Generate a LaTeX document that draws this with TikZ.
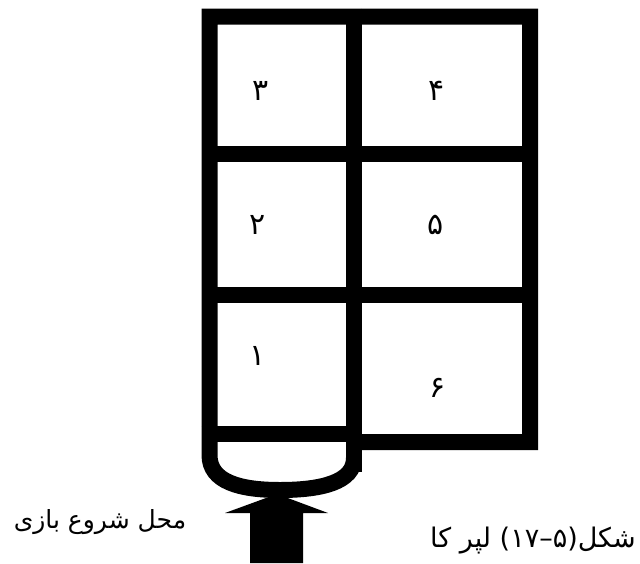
\documentclass[tikz,border=0pt]{standalone}
\usepackage{fontspec}
\newfontfamily\arabicfont[Script=Arabic]{DejaVu Sans}
\newfontfamily\latinfont{DejaVu Sans}
\TeXXeTstate=1
\begin{document}
\begin{tikzpicture}[x=1pt,y=-1pt,
  bar/.style={line width=16pt, line cap=butt, line join=miter},
  cellnum/.style={font=\arabicfont\fontsize{30}{34}\selectfont, inner sep=0pt},
  startlabel/.style={font=\arabicfont\fontsize{25}{29}\selectfont, inner sep=0pt},
  caption/.style={font=\arabicfont\fontsize{27}{31}\selectfont, inner sep=0pt}]
\useasboundingbox (0,0) rectangle (640,563);

% board outline: cup bottom, left column, top edge, right column, its bottom edge
\draw[bar] (354,458) .. controls (354,482) and (322,490) .. (280,490)
  .. controls (240,490) and (209.5,482) .. (209.5,455)
  -- (209.5,16.5) -- (530,16.5) -- (530,442) -- (346,442);
% middle divider
\draw[bar] (354,8.5) -- (354,472);
% row dividers
\draw[bar] (209.5,154) -- (530,154);
\draw[bar] (209.5,295) -- (530,295);
% bar closing the left column above the cup
\draw[bar] (201.5,433.5) -- (362,433.5);

% entry arrow
\fill (250,563) -- (250,513) -- (225,513) -- (277,494) -- (328,513)
  -- (303,513) -- (303,563) -- cycle;

% cell numbers
\node[cellnum] (n3) at (261,91) {۳};
\node[cellnum] (n4) at (437,91) {۴};
\node[cellnum] (n2) at (258,225) {۲};
\node[cellnum] (n5) at (436,225) {۵};
\node[cellnum] (n1) at (258,356) {۱};
\node[cellnum] (n6) at (438,388) {۶};

% labels
\node[startlabel] (start) at (100,522) {\beginR محل شروع بازی\endR};
\node[caption] (figcap) at (533,541) {\beginR لپر کا\endR\ \mbox{\latinfont(}\mbox{۱}\mbox{۷}\mbox{\latinfont–}\mbox{۵}\mbox{\latinfont)}\mbox{شکل}};
\end{tikzpicture}
\end{document}
